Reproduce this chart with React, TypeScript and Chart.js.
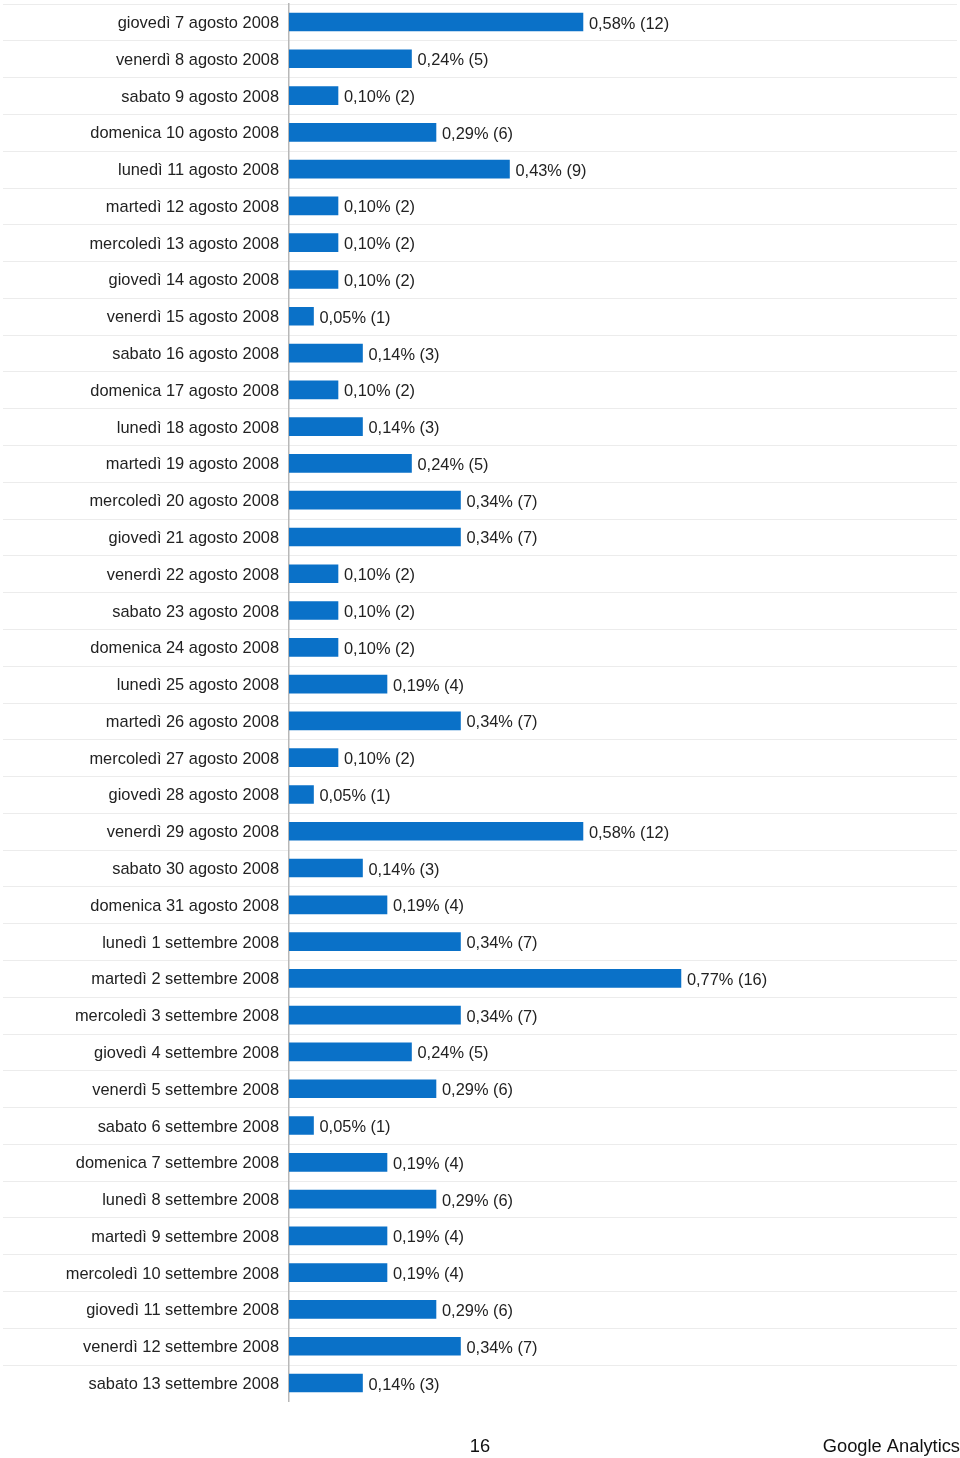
import React, { useEffect, useRef } from "react";
import { Chart, registerables } from "chart.js";

Chart.register(...registerables);

const categories: string[] = [
  "giovedì 7 agosto 2008",
  "venerdì 8 agosto 2008",
  "sabato 9 agosto 2008",
  "domenica 10 agosto 2008",
  "lunedì 11 agosto 2008",
  "martedì 12 agosto 2008",
  "mercoledì 13 agosto 2008",
  "giovedì 14 agosto 2008",
  "venerdì 15 agosto 2008",
  "sabato 16 agosto 2008",
  "domenica 17 agosto 2008",
  "lunedì 18 agosto 2008",
  "martedì 19 agosto 2008",
  "mercoledì 20 agosto 2008",
  "giovedì 21 agosto 2008",
  "venerdì 22 agosto 2008",
  "sabato 23 agosto 2008",
  "domenica 24 agosto 2008",
  "lunedì 25 agosto 2008",
  "martedì 26 agosto 2008",
  "mercoledì 27 agosto 2008",
  "giovedì 28 agosto 2008",
  "venerdì 29 agosto 2008",
  "sabato 30 agosto 2008",
  "domenica 31 agosto 2008",
  "lunedì 1 settembre 2008",
  "martedì 2 settembre 2008",
  "mercoledì 3 settembre 2008",
  "giovedì 4 settembre 2008",
  "venerdì 5 settembre 2008",
  "sabato 6 settembre 2008",
  "domenica 7 settembre 2008",
  "lunedì 8 settembre 2008",
  "martedì 9 settembre 2008",
  "mercoledì 10 settembre 2008",
  "giovedì 11 settembre 2008",
  "venerdì 12 settembre 2008",
  "sabato 13 settembre 2008",
];

const visits: number[] = [
  12, 5, 2, 6, 9, 2, 2, 2, 1, 3, 2, 3, 5, 7, 7, 2, 2, 2, 4, 7, 2, 1, 12, 3, 4,
  7, 16, 7, 5, 6, 1, 4, 6, 4, 4, 6, 7, 3,
];

const percents: number[] = [
  0.58, 0.24, 0.1, 0.29, 0.43, 0.1, 0.1, 0.1, 0.05, 0.14, 0.1, 0.14, 0.24,
  0.34, 0.34, 0.1, 0.1, 0.1, 0.19, 0.34, 0.1, 0.05, 0.58, 0.14, 0.19, 0.34,
  0.77, 0.34, 0.24, 0.29, 0.05, 0.19, 0.29, 0.19, 0.19, 0.29, 0.34, 0.14,
];

const pageNumber = "16";
const footerBrand = "Google Analytics";

const FONT = "'Liberation Sans', Arial, Helvetica, sans-serif";
const TEXT = "#222222";

const fmtPct = (p: number) => p.toFixed(2).replace(".", ",") + "%";

const rowsPlugin = {
  id: "rowsPlugin",
  beforeDraw(chart: any) {
    const { ctx, scales } = chart;
    const y = scales.y;
    const band = y.getPixelForValue(1) - y.getPixelForValue(0);
    ctx.save();
    ctx.strokeStyle = "#ececec";
    ctx.lineWidth = 1;
    for (let i = 0; i < categories.length; i++) {
      const yy = Math.round(y.getPixelForValue(i) - band / 2) + 0.5;
      ctx.beginPath();
      ctx.moveTo(3, yy);
      ctx.lineTo(957, yy);
      ctx.stroke();
    }
    ctx.restore();
  },
  afterDatasetsDraw(chart: any) {
    const { ctx } = chart;
    const meta = chart.getDatasetMeta(0);
    ctx.save();
    ctx.fillStyle = TEXT;
    ctx.font = `16.4px ${FONT}`;
    ctx.textAlign = "left";
    ctx.textBaseline = "middle";
    meta.data.forEach((bar: any, i: number) => {
      ctx.fillText(`${fmtPct(percents[i])} (${visits[i]})`, bar.x + 6, bar.y + 2);
    });
    ctx.restore();
  },
  afterDraw(chart: any) {
    const { ctx } = chart;
    ctx.save();
    ctx.fillStyle = "#111111";
    ctx.font = `18.3px ${FONT}`;
    ctx.textBaseline = "alphabetic";
    ctx.textAlign = "center";
    ctx.fillText(pageNumber, 480, 1452);
    ctx.textAlign = "right";
    ctx.fillText(footerBrand, 960, 1452);
    ctx.restore();
  },
};

export default function App() {
  const ref = useRef<HTMLCanvasElement | null>(null);

  useEffect(() => {
    if (!ref.current) return;
    const chart = new Chart(ref.current, {
      type: "bar",
      data: {
        labels: categories,
        datasets: [
          {
            data: visits,
            backgroundColor: "#0a71c8",
            borderWidth: 0,
            barThickness: 18,
          },
        ],
      },
      options: {
        indexAxis: "y",
        animation: false,
        responsive: false,
        maintainAspectRatio: false,
        layout: { padding: { left: 0, right: 3, top: 3.6, bottom: 56.6 } },
        plugins: {
          legend: { display: false },
          tooltip: { enabled: false },
        },
        scales: {
          x: {
            display: false,
            min: 0,
            max: 27.27,
          },
          y: {
            grid: { display: false, drawTicks: false },
            border: { display: true, color: "#b8b8b8", width: 1.5 },
            ticks: {
              color: TEXT,
              font: { family: FONT, size: 16.4 },
              padding: 10,
              labelOffset: 1.5,
              autoSkip: false,
            },
            afterFit: (s: any) => {
              s.width = 289;
              s.paddingTop = 0;
              s.paddingBottom = 0;
            },
          },
        },
      },
      plugins: [rowsPlugin],
    });
    return () => chart.destroy();
  }, []);

  return (
    <div style={{ position: "absolute", left: 0, top: 0, width: 960, height: 1458, background: "#fff" }}>
      <canvas ref={ref} width={960} height={1458} style={{ width: 960, height: 1458, display: "block" }} />
    </div>
  );
}
